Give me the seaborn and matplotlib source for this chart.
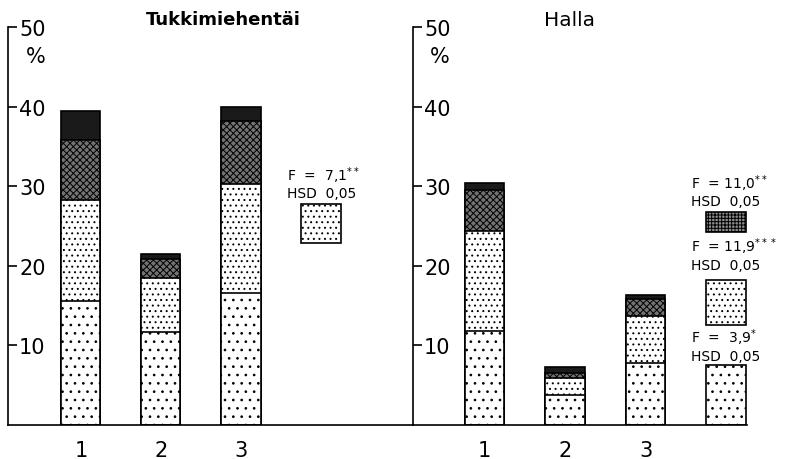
import numpy as np
import matplotlib.pyplot as plt
import seaborn as sns

sns.set_style("ticks")
plt.rcParams['font.family'] = ['DejaVu Sans']
plt.rcParams['hatch.linewidth'] = 0.7
for key in ['text.color', 'axes.edgecolor', 'xtick.color', 'ytick.color', 'axes.labelcolor']:
    plt.rcParams[key] = 'black'

# Categories (4th slot holds the HSD box)
groups = ["1", "2", "3"]
order = ["1", "2", "3", ""]

# Tukkimiehentäi: segment heights in %, bottom to top
tukki_s1 = [15.6, 11.7, 16.6]
tukki_s2 = [12.7, 6.8, 13.7]
tukki_s3 = [7.5, 2.4, 7.9]
tukki_s4 = [3.7, 0.6, 1.7]

# Halla: segment heights in %, bottom to top
halla_s1 = [11.8, 3.8, 7.8]
halla_s2 = [12.6, 2.1, 5.9]
halla_s3 = [5.1, 0.6, 2.1]
halla_s4 = [0.9, 0.8, 0.5]

# HSD 0,05 boxes: bottom, height, segment style index
tukki_hsd_bottom = [22.9]
tukki_hsd_height = [4.9]
tukki_hsd_style = [1]
halla_hsd_bottom = [24.2, 12.6, 0.0]
halla_hsd_height = [2.6, 5.6, 7.5]
halla_hsd_style = [4, 1, 0]

# F-test labels and their y positions (%)
tukki_f = ["F  =  7,1$^{**}$"]
tukki_f_y = [31.5]
halla_f = ["F  = 11,0$^{**}$", "F  = 11,9$^{***}$", "F  =  3,9$^{*}$"]
halla_f_y = [30.5, 22.5, 11.1]

yticks = [10, 20, 30, 40, 50]

# fill styles for segments (last one is the grid used in the Halla box)
styles = [
    dict(color="white", hatch=".."),
    dict(color="white", hatch="..."),
    dict(color="0.45", hatch="xxxxx"),
    dict(color="0.1", hatch=None),
    dict(color="0.55", hatch="+++++"),
]


def draw_panel(ax, segs, title, bold, hsd_bottom, hsd_height, hsd_style,
               f_labels, f_y, x_title, title_size, xlim):
    cum = np.cumsum(np.array(segs), axis=0)
    # draw from the top layer down so lower segments cover upper ones
    for i in range(len(segs) - 1, -1, -1):
        sns.barplot(x=groups, y=cum[i], order=order, ax=ax, width=0.49,
                    saturation=1, errorbar=None, edgecolor="black",
                    linewidth=1.2, **styles[i])
    for b, h, s in zip(hsd_bottom, hsd_height, hsd_style):
        sns.barplot(x=[""], y=[h], order=order, ax=ax, width=0.49,
                    saturation=1, errorbar=None, edgecolor="black",
                    linewidth=1.2, bottom=b, **styles[s])
    for lab, y in zip(f_labels, f_y):
        ax.text(2.57, y, lab, fontsize=10, ha="left", va="center")
        ax.text(2.57, y - 2.4, "HSD  0,05", fontsize=10, ha="left", va="center")

    ax.text(x_title, 51.0, title, fontsize=title_size,
            fontweight="bold" if bold else "normal", ha="center", va="center")
    ax.text(-0.56, 46.4, "%", fontsize=15, ha="center", va="center")

    ax.set_xlim(*xlim)
    ax.set_ylim(0, 50)
    ax.set_xticks(range(len(order)))
    ax.set_xticklabels(order)
    ax.set_yticks(yticks)
    ax.set_yticklabels([str(t) for t in yticks], ha="left")
    ax.tick_params(axis="x", length=0, pad=11, labelsize=15)
    ax.tick_params(axis="y", direction="in", length=6.5, width=1.2,
                   pad=-8, labelsize=15)
    ax.set_xlabel("")
    ax.set_ylabel("")
    sns.despine(ax=ax)
    for sp in ["left", "bottom"]:
        ax.spines[sp].set_linewidth(1.2)


fig = plt.figure(figsize=(7.85, 4.6), dpi=100)
ax1 = fig.add_axes([8 / 785, 34 / 460, 405 / 785, 398 / 460])
ax2 = fig.add_axes([413 / 785, 34 / 460, 334 / 785, 398 / 460])

draw_panel(ax1, [tukki_s1, tukki_s2, tukki_s3, tukki_s4], "Tukkimiehentäi", True,
           tukki_hsd_bottom, tukki_hsd_height, tukki_hsd_style,
           tukki_f, tukki_f_y, 1.78, 13, (-0.91, 4.15))
draw_panel(ax2, [halla_s1, halla_s2, halla_s3, halla_s4], "Halla", False,
           halla_hsd_bottom, halla_hsd_height, halla_hsd_style,
           halla_f, halla_f_y, 1.06, 14.5, (-0.89, 3.26))

fig.savefig("out.png", dpi=100)
